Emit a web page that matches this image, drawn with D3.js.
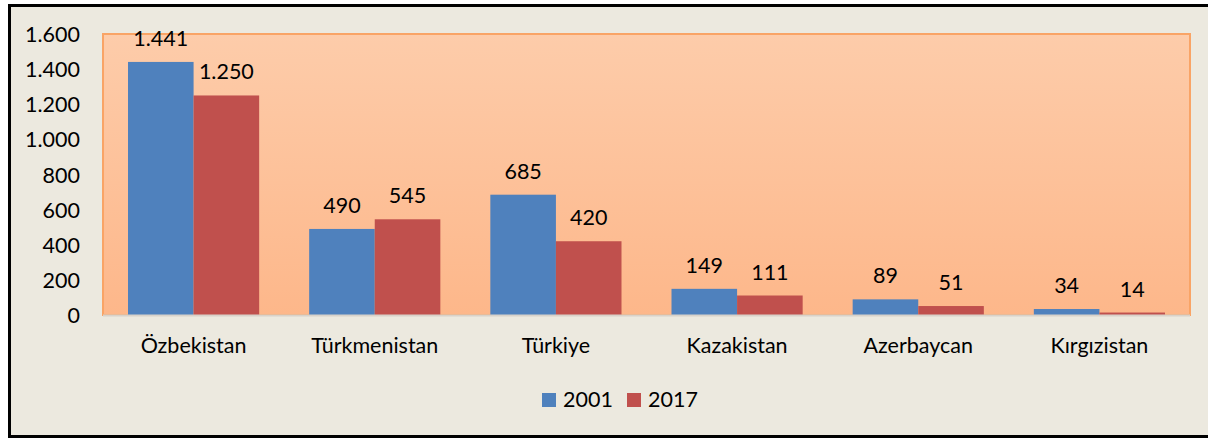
<!DOCTYPE html>
<html><head><meta charset="utf-8">
<script src="https://cdn.jsdelivr.net/npm/d3@7"></script>
<style>
html,body{margin:0;padding:0;background:#fff;}
svg{display:block;}
text{font-family:Lato,"Open Sans",sans-serif;fill:#000;}
</style></head>
<body>
<svg id="c" width="1208" height="439"></svg>
<script>
const categories = ["Özbekistan","Türkmenistan","Türkiye","Kazakistan","Azerbaycan","Kırgızistan"];
const values2001 = [1441, 490, 685, 149, 89, 34];
const values2017 = [1250, 545, 420, 111, 51, 14];
const seriesNames = ["2001","2017"];
const yTicks = [0,200,400,600,800,1000,1200,1400,1600];

const svg = d3.select("#c");
const W = 1208, H = 439;
const FS = 21.5;
const colors = ["#4F81BD","#C0504D"];
const fmt = v => d3.format(",")(v).replace(/,/g,".");

// background + frame
svg.append("rect").attr("x",0).attr("y",0).attr("width",W).attr("height",H).attr("fill","#fff");
svg.append("rect").attr("x",9.5).attr("y",5.5).attr("width",1210).attr("height",431)
  .attr("fill","#ECE9DF").attr("stroke","#000").attr("stroke-width",3);

const plot = {left:103, top:34, right:1190, bottom:315};

const defs = svg.append("defs");
const g = defs.append("linearGradient").attr("id","bg").attr("x1",0).attr("y1",0).attr("x2",0).attr("y2",1);
g.append("stop").attr("offset","0%").attr("stop-color","#FDCCAA");
g.append("stop").attr("offset","100%").attr("stop-color","#FDB78A");

svg.append("rect").attr("x",plot.left).attr("y",plot.top)
  .attr("width",plot.right-plot.left).attr("height",plot.bottom-plot.top)
  .attr("fill","url(#bg)").attr("stroke","#F9A466").attr("stroke-width",2);

const x0 = d3.scaleBand().domain(categories).range([plot.left,plot.right]).paddingInner(0.276).paddingOuter(0.138);
const x1 = d3.scaleBand().domain(seriesNames).range([0,x0.bandwidth()]).padding(0);
const y = d3.scaleLinear().domain([0,1600]).range([plot.bottom,plot.top]);

// y axis labels
const yAxis = d3.axisLeft(y).tickValues(yTicks).tickFormat(fmt).tickSize(0).tickPadding(0);
const ya = svg.append("g").attr("transform","translate(80,0)").call(yAxis);
ya.select(".domain").remove();
ya.selectAll("text").attr("font-size",FS).attr("font-family","Lato,'Open Sans',sans-serif").attr("fill","#000").attr("dy","0.35em");

// bars
const data = categories.map((c,i)=>({c, vals:[values2001[i],values2017[i]]}));
const grp = svg.append("g").selectAll("g").data(data).join("g")
  .attr("transform",d=>`translate(${x0(d.c)},0)`);
grp.selectAll("rect").data(d=>d.vals.map((v,j)=>({v,s:seriesNames[j],j}))).join("rect")
  .attr("x",d=>x1(d.s)).attr("width",x1.bandwidth())
  .attr("y",d=>y(d.v)).attr("height",d=>plot.bottom-y(d.v))
  .attr("fill",d=>colors[d.j]);
grp.selectAll("text").data(d=>d.vals.map((v,j)=>({v,s:seriesNames[j],j}))).join("text")
  .attr("x",d=>x1(d.s)+x1.bandwidth()/2).attr("y",d=>y(d.v)-16)
  .attr("text-anchor","middle").attr("font-size",FS).text(d=>fmt(d.v));

// x axis line
svg.append("line").attr("x1",plot.left).attr("x2",plot.right).attr("y1",plot.bottom+0.5).attr("y2",plot.bottom+0.5)
  .attr("stroke","#D8D2CA").attr("stroke-width",2);

// x axis labels
const xAxis = d3.axisBottom(x0).tickSize(0).tickPadding(0);
const xa = svg.append("g").attr("transform",`translate(0,${plot.bottom})`).call(xAxis);
xa.select(".domain").remove();
xa.selectAll("text").attr("font-size",FS).attr("font-family","Lato,'Open Sans',sans-serif").attr("fill","#000")
  .attr("dy",0).attr("y",38);

// legend
const leg = svg.append("g");
const legX = [542, 627];
seriesNames.forEach((s,i)=>{
  leg.append("rect").attr("x",legX[i]).attr("y",393).attr("width",14).attr("height",14).attr("fill",colors[i]);
  leg.append("text").attr("x",legX[i]+21).attr("y",407).attr("font-size",FS).text(s);
});
</script>
</body></html>
